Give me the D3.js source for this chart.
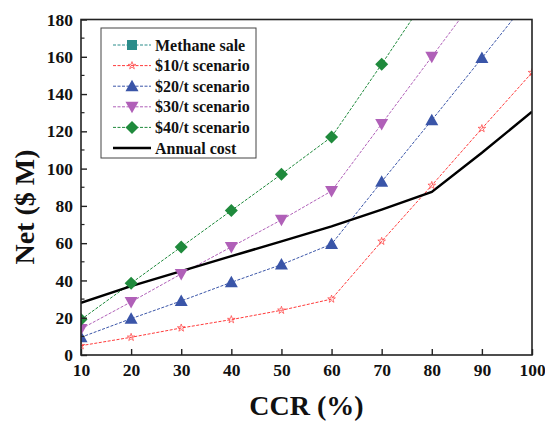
<!DOCTYPE html>
<html><head><meta charset="utf-8">
<script src="https://cdn.jsdelivr.net/npm/d3@7/dist/d3.min.js"></script>
<style>
body{margin:0;background:#fff;}
</style></head>
<body><svg id="c" width="545" height="421"></svg>
<script>
const ccr = [10,20,30,40,50,60,70,80,90,100];
const methaneSale = [];
const s10 = [5,9.5,14.5,19,24,30,61,91,121.5,151.5];
const s20 = [9.5,19.5,29,39,48.5,59.5,93,126,159.3,193];
const s30 = [14,28.5,43.5,58,72.5,88,124,160,196,232];
const s40 = [19,38.5,58,77.5,97,117,156,196,236,276];
const annualCost = [28,37,45,53,61,69,78,87.5,108.5,130.5];
const xTicks = [10,20,30,40,50,60,70,80,90,100];
const yTicks = [0,20,40,60,80,100,120,140,160,180];
const legendLabels = ["Methane sale","$10/t scenario","$20/t scenario","$30/t scenario","$40/t scenario","Annual cost"];

const FONT = "'Liberation Serif', 'Times New Roman', Times, serif";
const svg = d3.select("#c").attr("font-family",FONT).attr("font-weight","bold");
const L=81,R=532,T=19.5,B=355;
const x = d3.scaleLinear().domain([10,100]).range([L,R]);
const y = d3.scaleLinear().domain([0,180]).range([B,T]);

svg.append("clipPath").attr("id","clip").append("rect").attr("x",L).attr("y",T).attr("width",R-L).attr("height",B-T);

const series = [
  {name:legendLabels[0], vals:methaneSale, color:"#2b8c8a", sym:"square"},
  {name:legendLabels[1], vals:s10, color:"#ff3b3b", sym:"star"},
  {name:legendLabels[2], vals:s20, color:"#3a55a8", sym:"tri"},
  {name:legendLabels[3], vals:s30, color:"#b060b8", sym:"tridown"},
  {name:legendLabels[4], vals:s40, color:"#1f8a3c", sym:"diamond"},
];

function marker(g, sym, color, cx, cy){
  if(sym==="square") g.append("rect").attr("x",cx-5).attr("y",cy-5).attr("width",10).attr("height",10).attr("fill",color);
  else if(sym==="tri") g.append("path").attr("d",`M${cx},${cy-6.5}L${cx+6.5},${cy+5}L${cx-6.5},${cy+5}Z`).attr("fill",color);
  else if(sym==="tridown") g.append("path").attr("d",`M${cx},${cy+6.5}L${cx+6.5},${cy-5}L${cx-6.5},${cy-5}Z`).attr("fill",color);
  else if(sym==="diamond") g.append("path").attr("d",`M${cx},${cy-6.5}L${cx+6.5},${cy}L${cx},${cy+6.5}L${cx-6.5},${cy}Z`).attr("fill",color);
  else if(sym==="star") g.append("path").attr("d",d3.symbol(d3.symbolStar,18)()).attr("transform",`translate(${cx},${cy})`).attr("fill","none").attr("stroke",color).attr("stroke-width",0.7);
}

const plot = svg.append("g").attr("clip-path","url(#clip)");
const line = d3.line().x((d,i)=>x(ccr[i])).y(d=>y(d));
series.forEach(s=>{
  if(!s.vals.length) return;
  plot.append("path").attr("d",line(s.vals)).attr("fill","none").attr("stroke",s.color).attr("stroke-width",1).attr("stroke-dasharray","3,1.5");
});
plot.append("path").attr("d",line(annualCost)).attr("fill","none").attr("stroke","#000").attr("stroke-width",2.4);
series.forEach(s=>{
  s.vals.forEach((v,i)=>{ if(v<=182) marker(plot,s.sym,s.color,x(ccr[i]),y(v)); });
});

// frame
svg.append("rect").attr("x",L).attr("y",T).attr("width",R-L).attr("height",B-T).attr("fill","none").attr("stroke","#222").attr("stroke-width",1.6);

// axes
const xa = svg.append("g").attr("transform",`translate(0,${B})`).call(d3.axisBottom(x).tickValues(xTicks).tickSize(-6).tickPadding(10));
xa.attr("font-family",FONT).attr("font-weight","bold");
xa.select(".domain").remove();
xa.selectAll("line").attr("stroke","#222").attr("stroke-width",1.4);
xa.selectAll("text").attr("font-size",17.5).attr("fill","#111").attr("dy","0.71em").attr("y",9);

const ya = svg.append("g").attr("transform",`translate(${L},0)`).call(d3.axisLeft(y).tickValues(yTicks).tickSize(-6).tickPadding(8));
ya.attr("font-family",FONT).attr("font-weight","bold");
ya.select(".domain").remove();
ya.selectAll("line").attr("stroke","#222").attr("stroke-width",1.4);
ya.selectAll("text").attr("font-size",17.5).attr("fill","#111");
const minor = d3.range(10,180,20);
svg.append("g").selectAll("line").data(minor).join("line")
  .attr("x1",L).attr("x2",L+3.5).attr("y1",d=>y(d)).attr("y2",d=>y(d)).attr("stroke","#222").attr("stroke-width",1.2);

// titles
svg.append("text").attr("x",(L+R)/2).attr("y",415).attr("text-anchor","middle").attr("font-size",28).attr("fill","#111").text("CCR (%)");
svg.append("text").attr("transform",`translate(34,207) rotate(-90)`).attr("text-anchor","middle").attr("font-size",28).attr("fill","#111").text("Net ($ M)");

// legend
const lg = svg.append("g");
lg.append("rect").attr("x",101).attr("y",28).attr("width",155).attr("height",130).attr("fill","#fff").attr("stroke","#444").attr("stroke-width",1);
const rowY = i=>45+i*20.6;
series.forEach((s,i)=>{
  lg.append("line").attr("x1",113).attr("x2",151).attr("y1",rowY(i)).attr("y2",rowY(i)).attr("stroke",s.color).attr("stroke-width",1).attr("stroke-dasharray","3,1.5");
  marker(lg,s.sym,s.color,132,rowY(i));
  lg.append("text").attr("x",155).attr("y",rowY(i)).attr("dy","0.35em").attr("font-size",16).attr("fill","#111").text(s.name);
});
lg.append("line").attr("x1",113).attr("x2",151).attr("y1",rowY(5)).attr("y2",rowY(5)).attr("stroke","#000").attr("stroke-width",2.4);
lg.append("text").attr("x",155).attr("y",rowY(5)).attr("dy","0.35em").attr("font-size",16).attr("fill","#111").text(legendLabels[5]);
</script></body></html>
